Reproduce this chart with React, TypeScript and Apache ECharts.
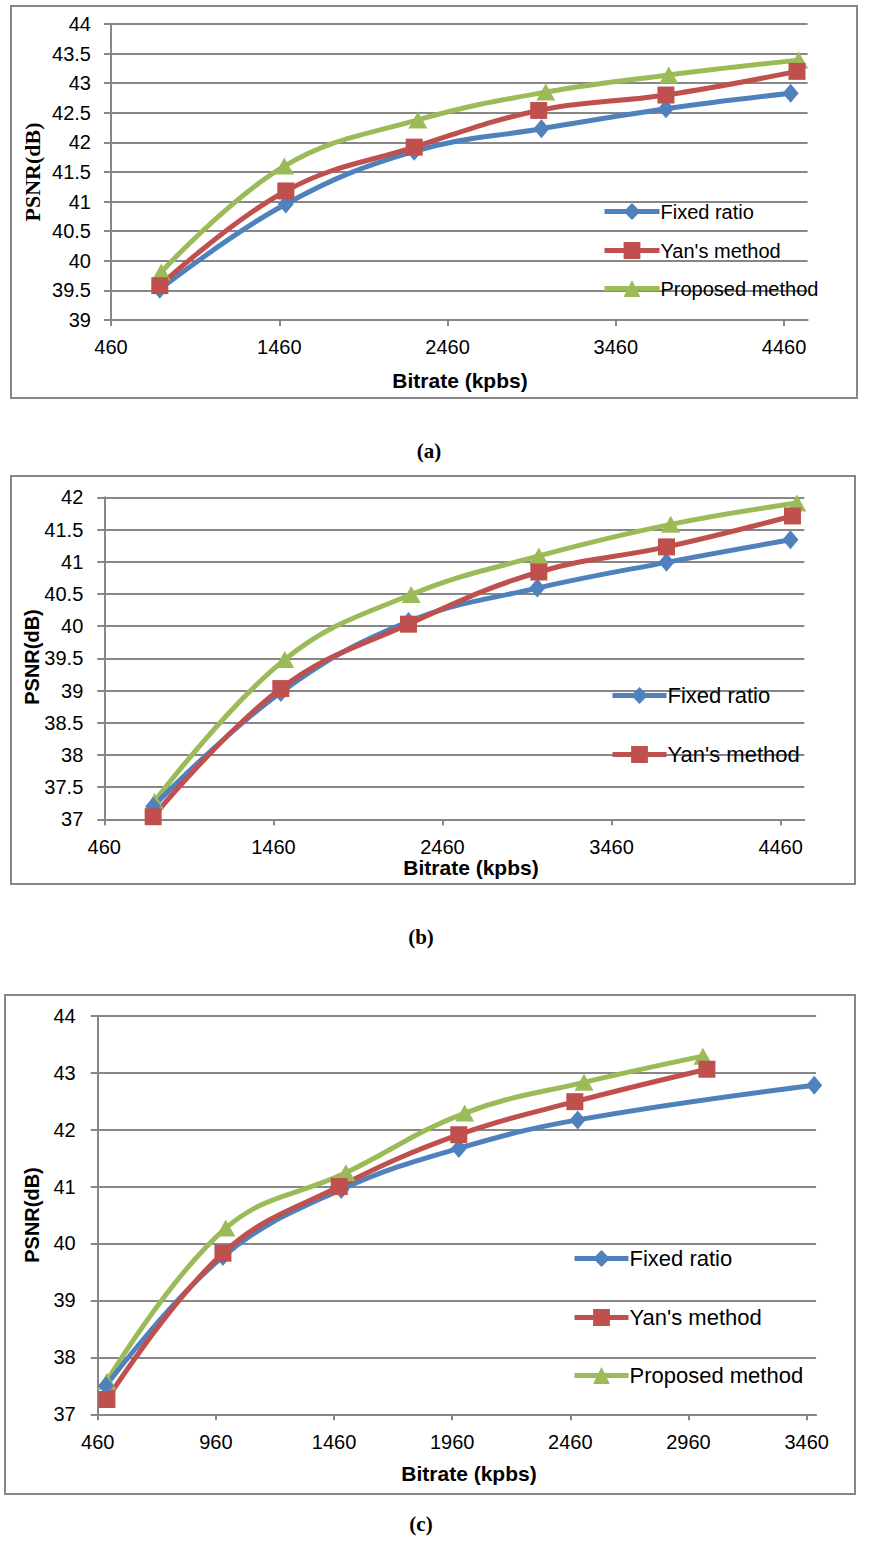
import React, { useEffect, useRef } from "react";
import * as echarts from "echarts";

// ---------- data ----------
const seriesNames = ["Fixed ratio", "Yan's method", "Proposed method"];
const xTicksAB = [460, 1460, 2460, 3460, 4460];
const xTicksC = [460, 960, 1460, 1960, 2460, 2960, 3460];

// chart (a)
const fixedA_x = [750, 1499, 2262, 3018, 3758, 4499];
const fixedA_y = [39.52, 40.96, 41.85, 42.23, 42.57, 42.83];
const yanA_x = [750, 1499, 2262, 3002, 3758, 4537];
const yanA_y = [39.58, 41.18, 41.92, 42.54, 42.8, 43.2];
const propA_x = [759, 1490, 2284, 3044, 3775, 4547];
const propA_y = [39.81, 41.6, 42.38, 42.85, 43.14, 43.39];

// chart (b)
const fixedB_x = [749, 1504, 2259, 3021, 3785, 4518];
const fixedB_y = [37.2, 38.97, 40.07, 40.59, 40.99, 41.34];
const yanB_x = [749, 1504, 2259, 3030, 3785, 4530];
const yanB_y = [37.04, 39.03, 40.03, 40.84, 41.23, 41.71];
const propB_x = [758, 1527, 2275, 3030, 3810, 4556];
const propB_y = [37.28, 39.48, 40.49, 41.09, 41.58, 41.91];

// chart (c)
const fixedC_x = [495, 990, 1491, 1988, 2491, 3492];
const fixedC_y = [37.5, 39.77, 40.95, 41.67, 42.17, 42.78];
const yanC_x = [499, 990, 1482, 1988, 2479, 3038];
const yanC_y = [37.26, 39.83, 41.0, 41.91, 42.49, 43.06];
const propC_x = [499, 1002, 1510, 2013, 2518, 3021];
const propC_y = [37.58, 40.27, 41.24, 42.29, 42.83, 43.29];

// ---------- styles ----------
const GRAY = "#878787";
const SANS = "'Liberation Sans', Arial, sans-serif";
const SERIF = "'Liberation Serif', 'Times New Roman', serif";
const COLORS = ["#4F81BD", "#C0504D", "#9BBB59"];
const SYMBOLS = ["diamond", "rect", "triangle"];
const SIZES: any[] = [[16, 19], 17, [19, 17]];

function pairs(xs: number[], ys: number[]) {
  return xs.map((x, i) => [x, ys[i]]);
}

function mkSeries(idx: number, gi: number, xs: number[], ys: number[]) {
  return {
    type: "line",
    name: seriesNames[idx],
    xAxisIndex: gi,
    yAxisIndex: gi,
    data: pairs(xs, ys),
    smooth: 0.4,
    symbol: SYMBOLS[idx],
    symbolSize: SIZES[idx],
    color: COLORS[idx],
    lineStyle: { color: COLORS[idx], width: 5 },
    itemStyle: { color: COLORS[idx] },
    emphasis: { disabled: true },
  };
}

function mkX(gi: number, ticks: number[], max: number, margin: number) {
  return {
    type: "value",
    gridIndex: gi,
    min: 460,
    max,
    interval: ticks[1] - ticks[0],
    axisLine: { show: true, lineStyle: { color: GRAY, width: 2 } },
    axisTick: { show: true, length: 6, lineStyle: { color: GRAY, width: 2 }, customValues: ticks },
    axisLabel: {
      customValues: ticks,
      fontSize: 20,
      color: "#000",
      fontFamily: SANS,
      margin,
      formatter: (v: number) => String(v),
    },
    splitLine: { show: false },
  };
}

function mkY(gi: number, min: number, max: number, interval: number, margin: number) {
  return {
    type: "value",
    gridIndex: gi,
    min,
    max,
    interval,
    axisLine: { show: true, lineStyle: { color: GRAY, width: 2 } },
    axisTick: { show: true, length: 7, lineStyle: { color: GRAY, width: 2 } },
    axisLabel: { fontSize: 20, color: "#000", fontFamily: SANS, margin },
    splitLine: { show: true, lineStyle: { color: GRAY, width: 2 } },
  };
}

function mkLegend(name: string, left: number, centerY: number, fontSize: number, itemWidth: number) {
  return {
    data: [name],
    left,
    top: centerY - 10.5,
    padding: 0,
    itemWidth,
    itemHeight: 21,
    selectedMode: false,
    lineStyle: { width: 5 },
    textStyle: { fontSize, color: "#000", fontFamily: SANS, padding: [0, 0, 0, -4] },
  };
}

function txt(x: number, y: number, text: string, font: string, rotation = 0) {
  return {
    type: "text",
    x,
    y,
    rotation,
    silent: true,
    style: {
      text,
      font,
      fill: "#000",
      align: "center",
      verticalAlign: "middle",
      textAlign: "center",
      textVerticalAlign: "middle",
    },
  };
}

function box(x: number, y: number, w: number, h: number) {
  return {
    type: "rect",
    silent: true,
    z: -10,
    shape: { x, y, width: w, height: h },
    style: { fill: "#fff", stroke: GRAY, lineWidth: 2 },
  };
}

export default function App() {
  const ref = useRef<HTMLDivElement>(null);
  useEffect(() => {
    if (!ref.current) return;
    const chart = echarts.init(ref.current, null, { renderer: "svg" });
    const option: any = {
      animation: false,
      backgroundColor: "#fff",
      grid: [
        { left: 111, top: 24, width: 696.6, height: 296 },
        { left: 104.3, top: 497.3, width: 700, height: 322 },
        { left: 97.7, top: 1015.7, width: 718.4, height: 398.6 },
      ],
      xAxis: [mkX(0, xTicksAB, 4600, 17), mkX(1, xTicksAB, 4600, 18), mkX(2, xTicksC, 3500, 18)],
      yAxis: [mkY(0, 39, 44, 0.5, 20), mkY(1, 37, 42, 0.5, 21), mkY(2, 37, 44, 1, 22)],
      legend: [
        mkLegend(seriesNames[0], 602, 212, 20, 55),
        mkLegend(seriesNames[1], 602, 251, 20, 55),
        mkLegend(seriesNames[2], 602, 289, 20, 55),
        mkLegend(seriesNames[0], 610, 695, 22, 54),
        mkLegend(seriesNames[1], 610, 754, 22, 54),
        mkLegend(seriesNames[0], 572, 1258, 22, 54),
        mkLegend(seriesNames[1], 572, 1317, 22, 54),
        mkLegend(seriesNames[2], 572, 1375, 22, 54),
      ],
      series: [
        mkSeries(2, 0, propA_x, propA_y),
        mkSeries(0, 0, fixedA_x, fixedA_y),
        mkSeries(1, 0, yanA_x, yanA_y),
        mkSeries(2, 1, propB_x, propB_y),
        mkSeries(0, 1, fixedB_x, fixedB_y),
        mkSeries(1, 1, yanB_x, yanB_y),
        mkSeries(2, 2, propC_x, propC_y),
        mkSeries(0, 2, fixedC_x, fixedC_y),
        mkSeries(1, 2, yanC_x, yanC_y),
      ],
      graphic: [
        box(11, 6, 846, 392),
        box(11, 476, 844, 408),
        box(5, 995, 850, 499),
        txt(32, 172, "PSNR(dB)", `bold 22px ${SERIF}`, Math.PI / 2),
        txt(32, 657, "PSNR(dB)", `bold 20px ${SANS}`, Math.PI / 2),
        txt(32, 1215, "PSNR(dB)", `bold 20px ${SANS}`, Math.PI / 2),
        txt(460, 380, "Bitrate (kpbs)", `bold 21px ${SANS}`),
        txt(471, 867, "Bitrate (kpbs)", `bold 21px ${SANS}`),
        txt(469, 1473, "Bitrate (kpbs)", `bold 21px ${SANS}`),
        txt(429, 451, "(a)", `bold 21px ${SERIF}`),
        txt(421, 937, "(b)", `bold 21px ${SERIF}`),
        txt(421, 1524, "(c)", `bold 21px ${SERIF}`),
      ],
    };
    chart.setOption(option);
    return () => chart.dispose();
  }, []);
  return (
    <div
      ref={ref}
      style={{ position: "absolute", left: 0, top: 0, width: 869, height: 1548 }}
    />
  );
}
